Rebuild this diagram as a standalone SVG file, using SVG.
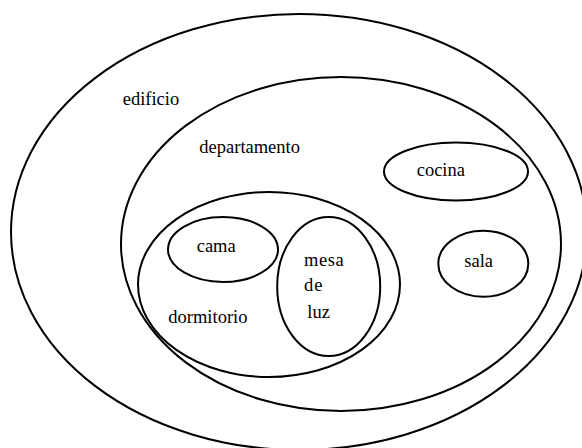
<svg xmlns="http://www.w3.org/2000/svg" width="582" height="448" viewBox="0 0 582 448">
<style>
.set{fill:none;stroke:#000;stroke-width:2}
</style>
<rect width="582" height="448" fill="#fff"/>
<g font-family="Liberation Serif, Times New Roman, serif" font-size="18.5" fill="#000">
<g id="edificio"><ellipse class="set" cx="299" cy="232" rx="288" ry="218"/><text x="122.7" y="105">edificio</text></g>
<g id="departamento"><ellipse class="set" cx="341" cy="244" rx="220" ry="167"/><text x="199.3" y="152.5">departamento</text></g>
<g id="dormitorio"><ellipse class="set" cx="269" cy="284.5" rx="131" ry="92.5"/><text x="168.3" y="323">dormitorio</text></g>
<g id="cama"><ellipse class="set" cx="223" cy="249.5" rx="55" ry="32.5"/><text x="196.7" y="252">cama</text></g>
<g id="mesa-de-luz"><ellipse class="set" cx="328.7" cy="286.5" rx="51.5" ry="69.5"/><text x="304" y="265.7" letter-spacing="0.6">mesa</text><text x="304" y="290.7" letter-spacing="1">de</text><text x="307.3" y="318.3">luz</text></g>
<g id="cocina"><ellipse class="set" cx="456" cy="171.5" rx="72" ry="29"/><text x="416.7" y="175.7">cocina</text></g>
<g id="sala"><ellipse class="set" cx="483.3" cy="263.7" rx="45" ry="33"/><text x="464.3" y="267.3">sala</text></g>
</g>
<g id="connectors"/>
</svg>
